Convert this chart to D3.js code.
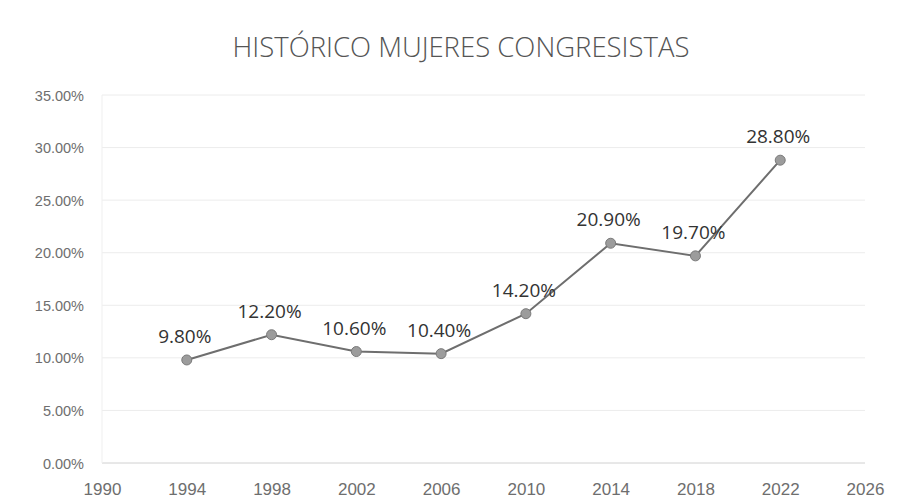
<!DOCTYPE html>
<html lang="es">
<head>
  <meta charset="UTF-8">
  <title>Histórico mujeres congresistas</title>
  <script src="https://d3js.org/d3.v7.min.js"></script>
  <style>
    body { margin: 0; background: #fff; }
    svg { display: block; font-family: "Open Sans", "Noto Sans", sans-serif; }
    .axis text { fill: #6e6e6e; }
  </style>
</head>
<body>
  <div id="chart"></div>
  <script>
    // datos
    const years = [1994, 1998, 2002, 2006, 2010, 2014, 2018, 2022];
    const shares = [9.8, 12.2, 10.6, 10.4, 14.2, 20.9, 19.7, 28.8];
    const xTicks = [1990, 1994, 1998, 2002, 2006, 2010, 2014, 2018, 2022, 2026];
    const yTicks = [0, 5, 10, 15, 20, 25, 30, 35];
    const title = "HISTÓRICO MUJERES CONGRESISTAS";

    const width = 898, height = 502;
    const margin = { top: 95, right: 33, bottom: 39, left: 102 };

    const svg = d3.select("#chart").append("svg")
      .attr("width", width)
      .attr("height", height);

    const x = d3.scaleLinear().domain([1990, 2026]).range([margin.left, width - margin.right]);
    const y = d3.scaleLinear().domain([0, 35]).range([height - margin.bottom, margin.top]);

    // título
    svg.append("text")
      .attr("x", 461)
      .attr("y", 57)
      .attr("text-anchor", "middle")
      .attr("font-size", 27.5)
      .attr("font-weight", 300)
      .attr("fill", "#555")
      .text(title);

    // líneas de cuadrícula
    svg.append("g")
      .selectAll("line")
      .data(yTicks)
      .join("line")
      .attr("x1", x(1990))
      .attr("x2", x(2026))
      .attr("y1", d => y(d))
      .attr("y2", d => y(d))
      .attr("stroke", d => d === 0 ? "#d0d0d0" : "#ececec");

    svg.append("line")
      .attr("x1", x(1990)).attr("x2", x(1990))
      .attr("y1", y(0)).attr("y2", y(35))
      .attr("stroke", "#efefef");

    // eje Y
    const yAxis = svg.append("g").attr("class", "axis")
      .attr("transform", `translate(${margin.left - 15},0)`)
      .call(d3.axisLeft(y).tickValues(yTicks).tickSize(0).tickFormat(d => d.toFixed(2) + "%"));
    yAxis.select(".domain").remove();
    yAxis.selectAll("text").attr("font-size", 14.5).attr("font-weight", 300).attr("dy", "0.35em");

    // eje X
    const xAxis = svg.append("g").attr("class", "axis")
      .attr("transform", `translate(0,${height - margin.bottom + 17})`)
      .call(d3.axisBottom(x).tickValues(xTicks).tickSize(0).tickFormat(d3.format("d")));
    xAxis.select(".domain").remove();
    xAxis.selectAll("text").attr("font-size", 17);

    const data = years.map((yr, i) => ({ year: yr, value: shares[i] }));

    // línea
    svg.append("path")
      .datum(data)
      .attr("fill", "none")
      .attr("stroke", "#6e6e6e")
      .attr("stroke-width", 2)
      .attr("d", d3.line().x(d => x(d.year)).y(d => y(d.value)));

    // marcadores
    svg.append("g")
      .selectAll("circle")
      .data(data)
      .join("circle")
      .attr("cx", d => x(d.year))
      .attr("cy", d => y(d.value))
      .attr("r", 5)
      .attr("fill", "#9c9c9c")
      .attr("stroke", "#7a7a7a")
      .attr("stroke-width", 1);

    // etiquetas de datos
    svg.append("g")
      .selectAll("text")
      .data(data)
      .join("text")
      .attr("x", d => x(d.year) - 2)
      .attr("y", d => y(d.value) - 17)
      .attr("text-anchor", "middle")
      .attr("font-size", 19)
      .attr("fill", "#333")
      .text(d => d.value.toFixed(2) + "%");
  </script>
</body>
</html>
